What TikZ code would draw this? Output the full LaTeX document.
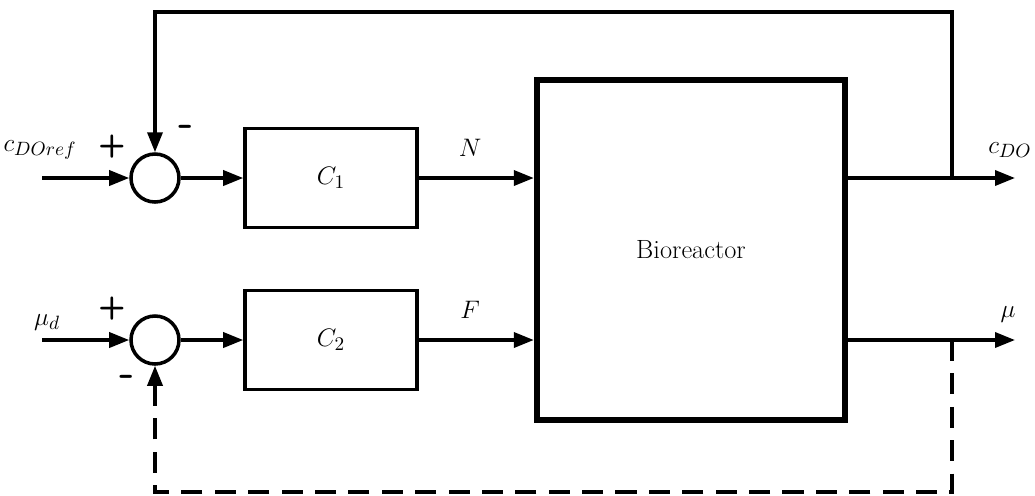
\documentclass[tikz,border=0pt]{standalone}
\usepackage{amsmath,amssymb}
\usepackage{tikz}
\usetikzlibrary{arrows.meta}

\begin{document}
\begin{tikzpicture}[x=0.2mm,y=-0.2mm,
    font=\fontsize{15}{18}\selectfont,
    line width=2pt,
    sig/.style={-{Triangle[length=4mm,width=3mm]}},
    sumnode/.style={circle,draw,line width=2pt,minimum size=9.6mm,inner sep=0pt},
    ctrlbox/.style={rectangle,draw,line width=2pt,minimum width=34.4mm,minimum height=19.8mm},
    plantbox/.style={rectangle,draw,line width=3.6pt,minimum width=61.6mm,minimum height=68mm},
    sgn/.style={font=\fontsize{18}{20}\selectfont\sffamily\bfseries},
    neg/.style={font=\fontsize{24}{26}\selectfont\sffamily\bfseries}]
    \useasboundingbox (0,0) rectangle (1035,495);
    % blocks
    \node[sumnode] (sum1) at (155,178) {};
    \node[sumnode] (sum2) at (155,340) {};
    \node[ctrlbox] (ctrl1) at (331,178) {$C_1$};
    \node[ctrlbox] (ctrl2) at (331,340) {$C_2$};
    \node[plantbox] (bio) at (691,250) {Bioreactor};
    % signal points
    \coordinate (in1) at (42,178);
    \coordinate (in2) at (42,340);
    \coordinate (out1) at (1015,178);
    \coordinate (out2) at (1015,340);
    \coordinate (tap1) at (952,178);
    \coordinate (tap2) at (952,340);
    \coordinate (fbtop) at (952,12);
    \coordinate (fbbot) at (952,492);
    % forward paths
    \draw[sig] (in1) -- (sum1.west);
    \draw[sig] (sum1.east) -- (ctrl1.west);
    \draw[sig] (ctrl1.east) -- (ctrl1.east -| bio.west);
    \draw[sig] (in2) -- (sum2.west);
    \draw[sig] (sum2.east) -- (ctrl2.west);
    \draw[sig] (ctrl2.east) -- (ctrl2.east -| bio.west);
    \draw[sig] (out1 -| bio.east) -- (out1);
    \draw[sig] (out2 -| bio.east) -- (out2);
    % feedback paths
    \draw[sig] (tap1) -- (fbtop) -| (sum1.north);
    \draw[sig,dashed,dash pattern=on 12pt off 7pt] (tap2) -- (fbbot) -| (sum2.south);
    % labels
    \node[inner sep=0pt] (lref) at (40,150) {$c_{DOref}$};
    \node (lmud) at (47,322) {$\mu_d$};
    \node[sgn] (p1) at (112,147) {+};
    \node[neg] (m1) at (186,131) {-};
    \node[sgn] (p2) at (112,309) {+};
    \node[neg] (m2) at (127,381) {-};
    \node (lN) at (470,148) {$N$};
    \node (lF) at (470,310) {$F$};
    \node[anchor=east,inner sep=1pt] (lcdo) at (1035,150) {$c_{DO}$};
    \node (lmu) at (1008,314) {$\mu$};
\end{tikzpicture}
\end{document}
